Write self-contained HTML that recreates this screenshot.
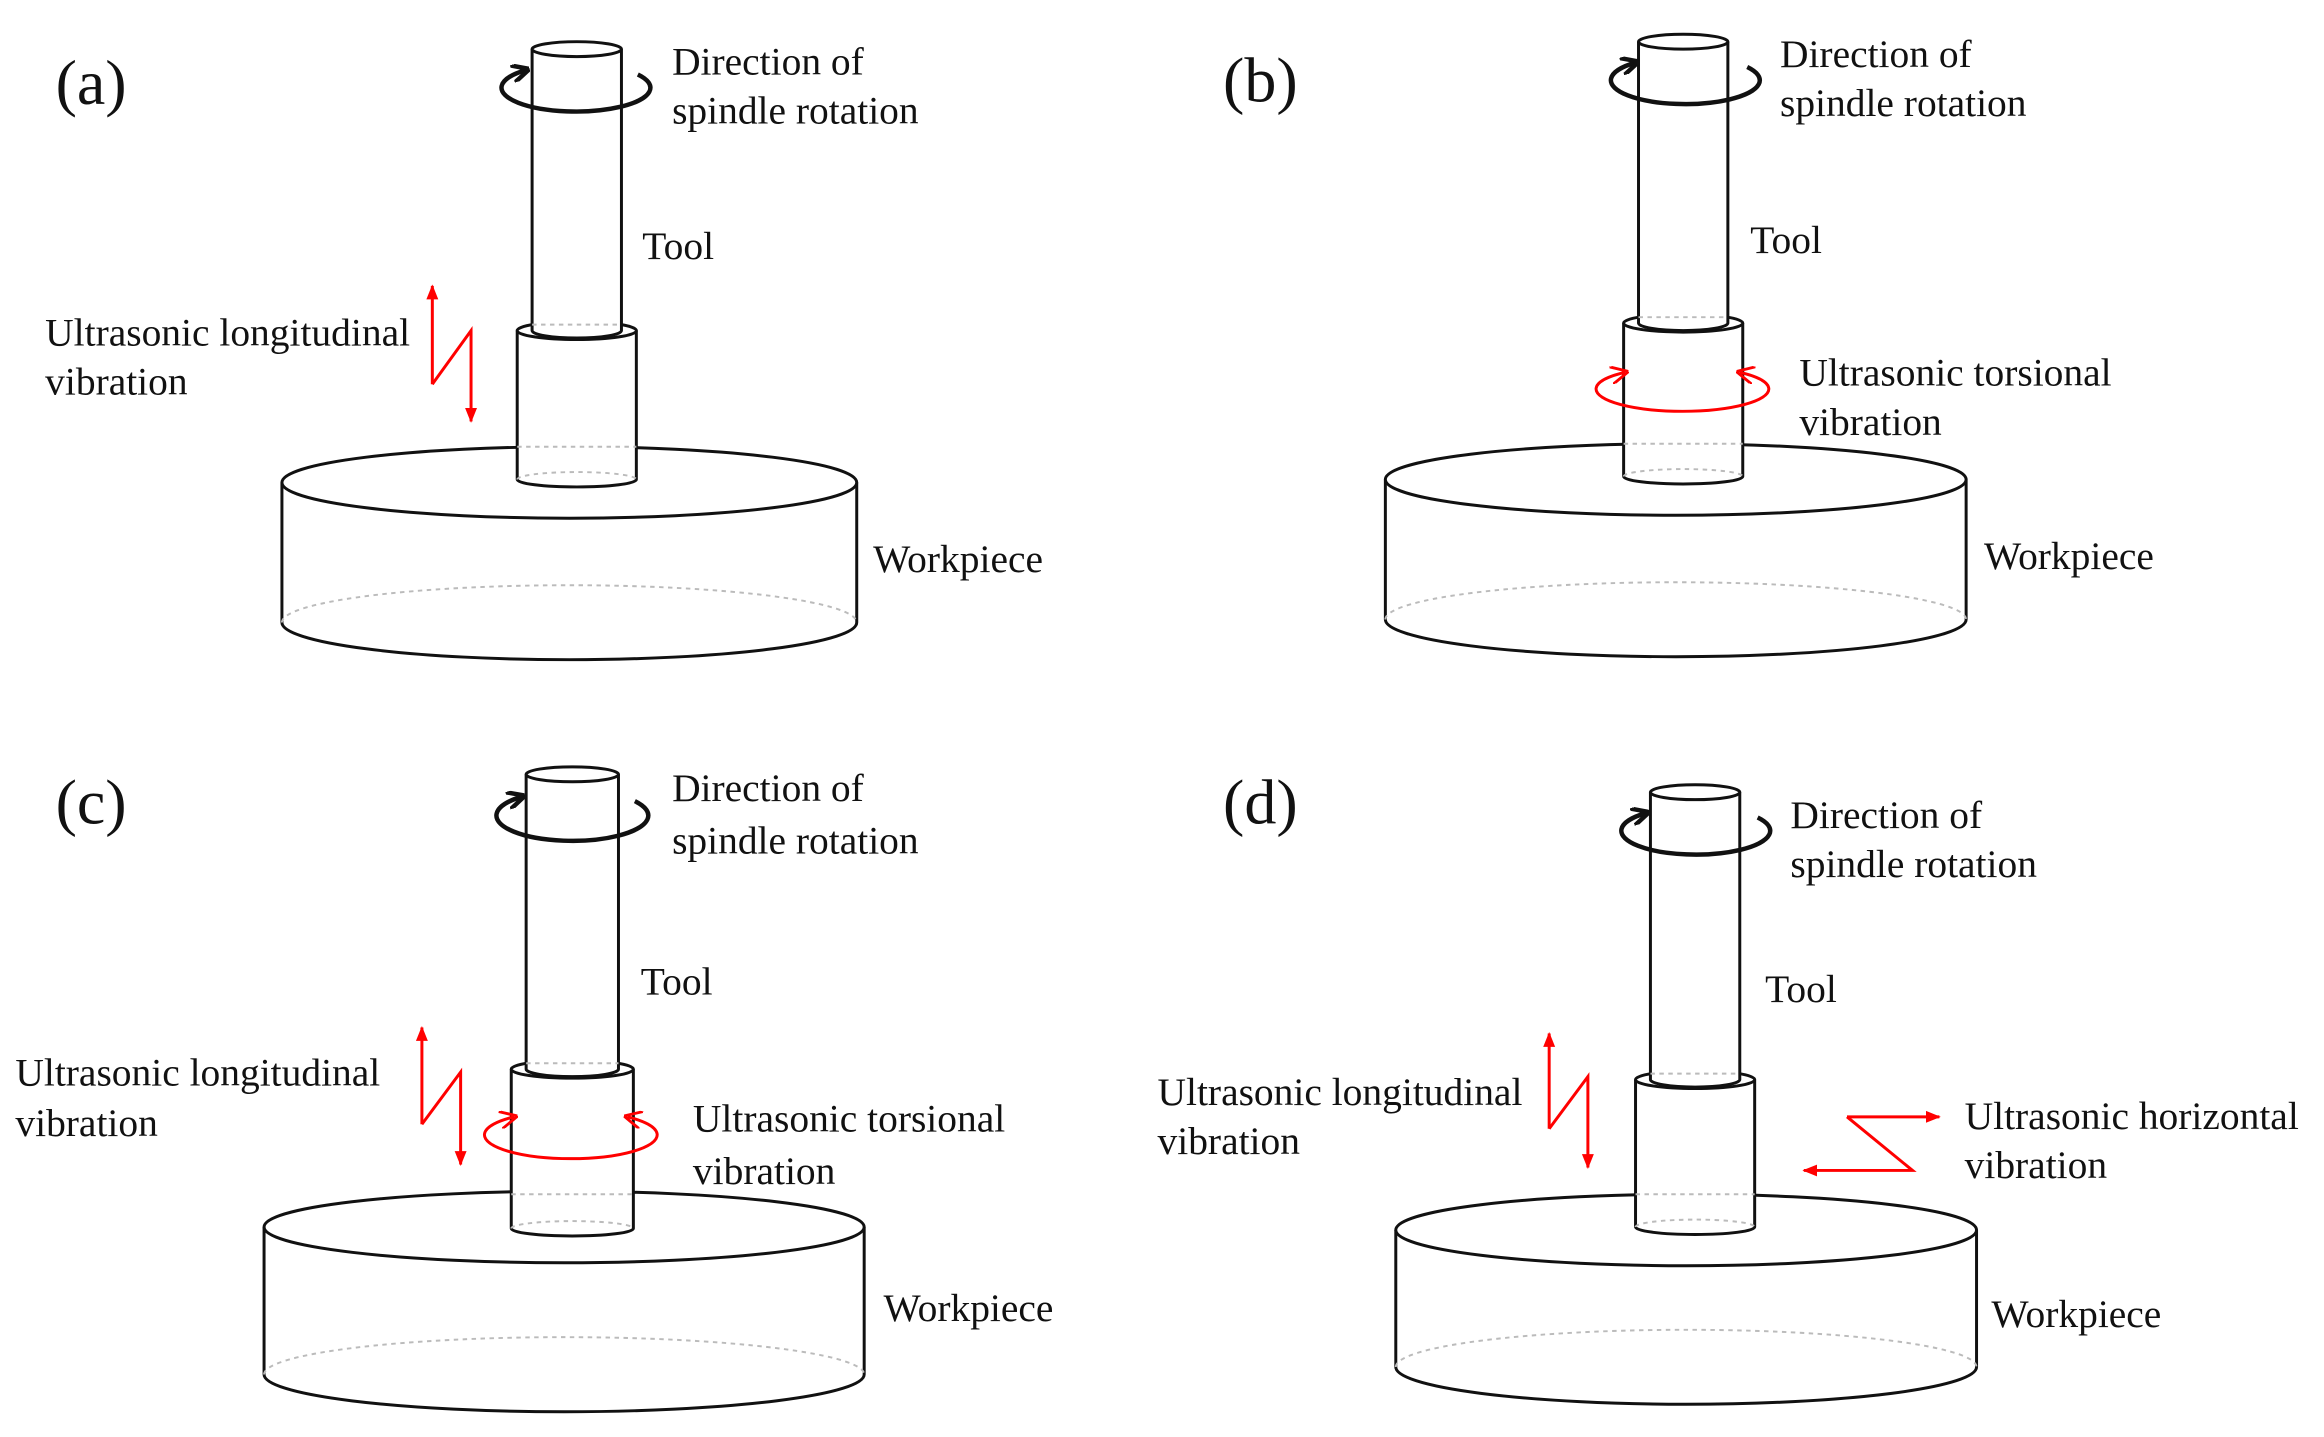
<!DOCTYPE html>
<html><head><meta charset="utf-8"><style>
html,body{margin:0;padding:0;background:#fff}
svg{display:block}
text{font-family:"Liberation Serif",serif;font-size:26.5px;fill:#111}
.lab{font-size:43px}
.k{stroke:#111;stroke-width:2;fill:#fff}
.n{stroke:#111;stroke-width:2;fill:none}
.d{stroke:#bbb;stroke-width:1.3;fill:none;stroke-dasharray:3 3}
.r{stroke:#f00;stroke-width:2;fill:none}
.rot{stroke:#111;stroke-width:3;fill:none}
</style></head><body>
<svg width="2324" height="1437" viewBox="0 0 1560 965" xmlns="http://www.w3.org/2000/svg">
<defs>
<marker id="ab" viewBox="0 0 10 10" refX="8" refY="5" markerWidth="4" markerHeight="4" orient="auto"><path d="M0,0 L10,5 L0,10" fill="none" stroke="#111" stroke-width="2.5"/></marker>
<marker id="ar" viewBox="0 0 10 10" refX="9" refY="5" markerWidth="5" markerHeight="5" orient="auto-start-reverse"><path d="M0,1 L10,5 L0,9 Z" fill="#f00"/></marker>
<marker id="ao" viewBox="0 0 10 10" refX="8" refY="5" markerWidth="6" markerHeight="6" orient="auto-start-reverse"><path d="M0,0 L10,5 L0,10" fill="none" stroke="#f00" stroke-width="1.6"/></marker>
</defs>

<!-- ===== (a) ===== -->
<text class="lab" x="37" y="70">(a)</text>
<path class="k" d="M189,324 L189,418 A193,25 0 0 0 575,418 L575,324"/>
<path class="d" d="M189,418 A193,25 0 0 1 575,418"/>
<ellipse class="k" cx="382" cy="324" rx="193" ry="24"/>
<path class="k" d="M347,222 L347,322 A40,5 0 0 0 427,322 L427,222"/>
<path class="d" d="M347,322 A40,5 0 0 1 427,322 M347,300 L427,300"/>
<ellipse class="k" cx="387" cy="222" rx="40" ry="6"/>
<path class="k" d="M357,33 L357,222 A30,5 0 0 0 417,222 L417,33"/>
<path class="d" d="M357,218 L417,218"/>
<ellipse class="k" cx="387" cy="33" rx="30" ry="5"/>
<path class="rot" d="M428,50 A50,16 0 1 1 353,47" marker-end="url(#ab)"/>
<text x="451" y="50">Direction of</text>
<text x="451" y="83">spindle rotation</text>
<text x="431" y="174">Tool</text>
<text x="30" y="232">Ultrasonic longitudinal</text>
<text x="30" y="265">vibration</text>
<path class="r" d="M290,258 L290,192" marker-end="url(#ar)"/>
<path class="r" d="M290,258 L316,222 L316,283" marker-end="url(#ar)"/>
<text x="586" y="384">Workpiece</text>

<!-- ===== (b) ===== -->
<text class="lab" x="821" y="68">(b)</text>
<path class="k" d="M930,322 L930,416 A195,25 0 0 0 1320,416 L1320,322"/>
<path class="d" d="M930,416 A195,25 0 0 1 1320,416"/>
<ellipse class="k" cx="1125" cy="322" rx="195" ry="24"/>
<path class="k" d="M1090,217 L1090,320 A40,5 0 0 0 1170,320 L1170,217"/>
<path class="d" d="M1090,320 A40,5 0 0 1 1170,320 M1090,298 L1170,298"/>
<ellipse class="k" cx="1130" cy="217" rx="40" ry="6"/>
<path class="k" d="M1100,28 L1100,217 A30,5 0 0 0 1160,217 L1160,28"/>
<path class="d" d="M1100,213 L1160,213"/>
<ellipse class="k" cx="1130" cy="28" rx="30" ry="5"/>
<path class="rot" d="M1173,45 A50,16 0 1 1 1098,42" marker-end="url(#ab)"/>
<text x="1195" y="45">Direction of</text>
<text x="1195" y="78">spindle rotation</text>
<text x="1175" y="170">Tool</text>
<path class="r" d="M1091,250 A58,15 0 1 0 1168,250" marker-start="url(#ao)" marker-end="url(#ao)"/>
<text x="1208" y="259">Ultrasonic torsional</text>
<text x="1208" y="292">vibration</text>
<text x="1332" y="382">Workpiece</text>

<!-- ===== (c) ===== -->
<text class="lab" x="37" y="553">(c)</text>
<path class="k" d="M177,824 L177,923 A201,25 0 0 0 580,923 L580,824"/>
<path class="d" d="M177,923 A201,25 0 0 1 580,923"/>
<ellipse class="k" cx="378.5" cy="824" rx="201.5" ry="24"/>
<path class="k" d="M343,718 L343,825 A41,5 0 0 0 425,825 L425,718"/>
<path class="d" d="M343,825 A41,5 0 0 1 425,825 M343,802 L425,802"/>
<ellipse class="k" cx="384" cy="718" rx="41" ry="6"/>
<path class="k" d="M353,520 L353,718 A31,5 0 0 0 415,718 L415,520"/>
<path class="d" d="M353,714 L415,714"/>
<ellipse class="k" cx="384" cy="520" rx="31" ry="5"/>
<path class="rot" d="M426,538 A51,17 0 1 1 350,535" marker-end="url(#ab)"/>
<text x="451" y="538">Direction of</text>
<text x="451" y="573">spindle rotation</text>
<text x="430" y="668">Tool</text>
<text x="10" y="729">Ultrasonic longitudinal</text>
<text x="10" y="763">vibration</text>
<path class="r" d="M283,755 L283,690" marker-end="url(#ar)"/>
<path class="r" d="M283,755 L309,720 L309,782" marker-end="url(#ar)"/>
<path class="r" d="M345,750 A58,16 0 1 0 421,750" marker-start="url(#ao)" marker-end="url(#ao)"/>
<text x="465" y="760">Ultrasonic torsional</text>
<text x="465" y="795">vibration</text>
<text x="593" y="887">Workpiece</text>

<!-- ===== (d) ===== -->
<text class="lab" x="821" y="553">(d)</text>
<path class="k" d="M937,826 L937,918 A195,25 0 0 0 1327,918 L1327,826"/>
<path class="d" d="M937,918 A195,25 0 0 1 1327,918"/>
<ellipse class="k" cx="1132" cy="826" rx="195" ry="24"/>
<path class="k" d="M1098,725 L1098,824 A40,5 0 0 0 1178,824 L1178,725"/>
<path class="d" d="M1098,824 A40,5 0 0 1 1178,824 M1098,802 L1178,802"/>
<ellipse class="k" cx="1138" cy="725" rx="40" ry="6"/>
<path class="k" d="M1108,532 L1108,725 A30,5 0 0 0 1168,725 L1168,532"/>
<path class="d" d="M1108,721 L1168,721"/>
<ellipse class="k" cx="1138" cy="532" rx="30" ry="5"/>
<path class="rot" d="M1180,549 A50,16 0 1 1 1105,546" marker-end="url(#ab)"/>
<text x="1202" y="556">Direction of</text>
<text x="1202" y="589">spindle rotation</text>
<text x="1185" y="673">Tool</text>
<text x="777" y="742">Ultrasonic longitudinal</text>
<text x="777" y="775">vibration</text>
<path class="r" d="M1040,758 L1040,694" marker-end="url(#ar)"/>
<path class="r" d="M1040,758 L1066,723 L1066,784" marker-end="url(#ar)"/>
<path class="r" d="M1240,750 L1302,750" marker-end="url(#ar)"/>
<path class="r" d="M1240,750 L1284,786 L1211,786" marker-end="url(#ar)"/>
<text x="1319" y="758">Ultrasonic horizontal</text>
<text x="1319" y="791">vibration</text>
<text x="1337" y="891">Workpiece</text>
</svg>
</body></html>
